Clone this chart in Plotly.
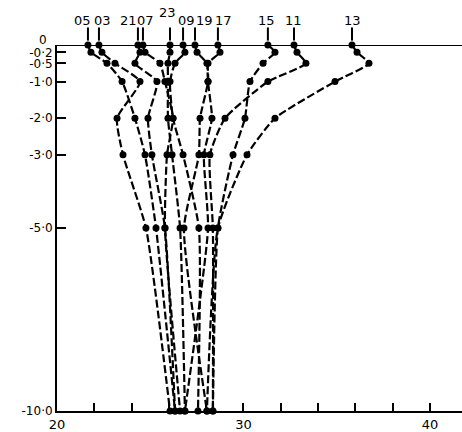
import plotly.graph_objects as go

# Depth levels (y) and series (temperature at each depth)
depths = [0, -0.2, -0.5, -1.0, -2.0, -3.0, -5.0, -10.0]

hours = ["05", "03", "21", "07", "23", "09", "19", "17", "15", "11", "13"]

t05 = [21.66, 21.82, 22.68, 23.49, 24.18, 24.72, 25.31, 26.33]
t03 = [22.25, 22.41, 23.11, 24.45, 23.22, 23.54, 24.77, 26.06]
t21 = [24.34, 24.45, 24.18, 25.36, 24.88, 25.09, 25.79, 26.33]
t07 = [24.61, 24.72, 25.52, 25.79, 26.22, 25.90, 25.79, 26.60]
t23 = [26.06, 26.06, 25.95, 25.95, 25.95, 26.17, 26.60, 26.86]
t09 = [26.76, 26.86, 26.33, 26.06, 26.22, 26.76, 27.61, 27.56]
t19 = [27.40, 27.51, 28.04, 28.10, 27.67, 27.61, 26.81, 28.04]
t17 = [28.63, 28.74, 28.10, 28.10, 28.31, 27.88, 28.10, 26.86]
t15 = [31.31, 31.69, 31.05, 30.35, 30.08, 29.44, 28.63, 28.36]
t11 = [32.71, 32.87, 33.35, 31.31, 29.01, 28.20, 28.36, 28.36]
t13 = [35.82, 36.09, 36.73, 34.91, 31.69, 30.19, 28.63, 28.04]

series = [t05, t03, t21, t07, t23, t09, t19, t17, t15, t11, t13]

ytick_vals = [0, -0.2, -0.5, -1.0, -2.0, -3.0, -5.0, -10.0]
ytick_text = ["", "-0·2", "-0·5", "-1·0", "-2·0", "-3·0", "-5·0", "-10·0"]
zero_label = "0"
xtick_vals = [20, 22, 24, 26, 28, 30, 32, 34, 36, 38, 40]
xtick_text = ["20", "", "", "", "", "30", "", "", "", "", "40"]

# label placement tweaks (pixels) for the hour labels above the chart
label_xshift = {"05": -5, "03": 4, "21": -9, "07": 3, "23": -3, "09": 3,
                "19": 10, "17": 6, "15": -1, "11": -1, "13": 1}
label_y = {"23": 1.088}

fig = go.Figure()
for h, vals in zip(hours, series):
    fig.add_trace(go.Scatter(
        x=vals, y=depths, mode="lines+markers", name=h,
        line=dict(color="black", width=2.2, dash="8px,3px", shape="spline", smoothing=0.5),
        marker=dict(color="black", size=7),
        showlegend=False, cliponaxis=False,
    ))

font = dict(family="DejaVu Sans", size=13, color="black")
yfont = dict(family="DejaVu Sans", size=12, color="black")
annotations = []
shapes = []
for h, vals in zip(hours, series):
    annotations.append(dict(
        x=vals[0], y=label_y.get(h, 1.068), xref="x", yref="paper",
        text=h, showarrow=False, xshift=label_xshift[h], font=font,
        xanchor="center", yanchor="middle",
    ))
    shapes.append(dict(type="line", xref="x", yref="paper",
                       x0=vals[0], x1=vals[0], y0=1.012, y1=1.048,
                       line=dict(color="black", width=2)))

# "0" label sits above-left of the axis top
annotations.append(dict(x=0, y=0, xref="paper", yref="y", text=zero_label,
                        showarrow=False, xanchor="right", yanchor="middle",
                        xshift=-8, yshift=5, font=yfont))

# top line at depth 0
shapes.append(dict(type="line", xref="paper", yref="y", x0=-0.005, x1=1, y0=0, y1=0,
                   line=dict(color="black", width=2)))

fig.update_layout(
    width=462, height=432,
    margin=dict(l=57, r=0, t=45, b=21),
    paper_bgcolor="white", plot_bgcolor="white",
    annotations=annotations, shapes=shapes,
    font=font,
    xaxis=dict(range=[20, 41.72], tickvals=xtick_vals, ticktext=xtick_text,
               ticks="inside", ticklen=8, tickwidth=2, tickcolor="black",
               showline=True, linecolor="black", linewidth=2,
               showgrid=False, zeroline=False, tickfont=font),
    yaxis=dict(range=[-10, 0], tickvals=ytick_vals, ticktext=ytick_text,
               ticks="inside", ticklen=9, tickwidth=2, tickcolor="black",
               showline=True, linecolor="black", linewidth=2,
               showgrid=False, zeroline=False, tickfont=yfont),
)

fig.write_html("out.html", config={"displayModeBar": False},
               post_script="document.body.style.margin='0';document.body.style.overflow='hidden';")
